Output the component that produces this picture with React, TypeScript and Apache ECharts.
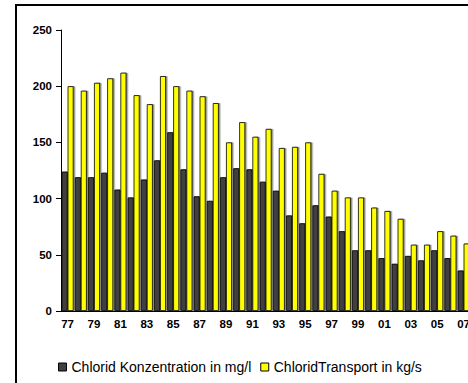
import React, { useEffect, useRef } from "react";
import * as echarts from "echarts";

const years = ["77","78","79","80","81","82","83","84","85","86","87","88","89","90","91","92","93","94","95","96","97","98","99","00","01","02","03","04","05","06","07"];
const konzentration = [124,119,119,123,108,101,117,134,159,126,102,98,119,127,126,115,107,85,78,94,84,71,54,54,47,42,49,45,54,47,36];
const transport = [200,196,203,207,212,192,184,209,200,196,191,185,150,168,155,162,145,146,150,122,107,101,101,92,89,82,59,59,71,67,60];
const seriesNames = ["Chlorid Konzentration in mg/l", "ChloridTransport in kg/s"];

export default function App() {
  const ref = useRef<HTMLDivElement>(null);
  useEffect(() => {
    if (!ref.current) return;
    const chart = echarts.init(ref.current, undefined, { renderer: "svg" });
    const font = "'Liberation Sans', Arial, sans-serif";
    const shadow = { shadowColor: "rgba(0,0,0,0.45)", shadowOffsetX: 1.5, shadowOffsetY: 0, shadowBlur: 0 };
    chart.setOption({
      animation: false,
      backgroundColor: "#fff",
      textStyle: { fontFamily: font },
      grid: { left: 61, top: 30, width: 409.2, height: 281 },
      legend: {
        left: 58,
        top: 360,
        padding: 0,
        itemWidth: 8,
        itemHeight: 8,
        itemGap: 9,
        icon: "rect",
        itemStyle: { borderColor: "#000", borderWidth: 1 },
        textStyle: { fontSize: 14, color: "#000", fontFamily: font },
        data: seriesNames,
      },
      xAxis: {
        type: "category",
        data: years,
        axisLine: { lineStyle: { color: "#000", width: 1 } },
        axisTick: { interval: 0, length: 5, lineStyle: { color: "#000" } },
        axisLabel: { interval: 1, margin: 7, fontSize: 11.5, fontWeight: "bold", color: "#000", fontFamily: font },
      },
      yAxis: {
        type: "value",
        min: 0,
        max: 250,
        interval: 50,
        splitLine: { show: false },
        axisLine: { show: true, lineStyle: { color: "#000", width: 1 } },
        axisTick: { show: true, length: 5, lineStyle: { color: "#000" } },
        axisLabel: { margin: 9, fontSize: 11.5, fontWeight: "bold", color: "#000", fontFamily: font },
      },
      series: [
        {
          name: seriesNames[0],
          type: "bar",
          data: konzentration,
          barWidth: 6,
          barGap: "0%",
          itemStyle: { color: "#404040", borderColor: "#000", borderWidth: 0.8, ...shadow },
        },
        {
          name: seriesNames[1],
          type: "bar",
          data: transport,
          barWidth: 6,
          barGap: "0%",
          itemStyle: { color: "#FFFF00", borderColor: "#000", borderWidth: 0.8, ...shadow },
        },
      ],
      graphic: [
        { type: "line", shape: { x1: 16, y1: 4, x2: 16, y2: 383 }, style: { stroke: "#000", lineWidth: 2 } },
        { type: "line", shape: { x1: 15, y1: 5, x2: 480, y2: 5 }, style: { stroke: "#000", lineWidth: 2 } },
      ],
    });
    return () => chart.dispose();
  }, []);
  return (
    <div style={{ position: "fixed", left: 0, top: 0, width: 468, height: 383, overflow: "hidden", background: "#fff" }}>
      <div ref={ref} style={{ width: 480, height: 383 }} />
    </div>
  );
}
